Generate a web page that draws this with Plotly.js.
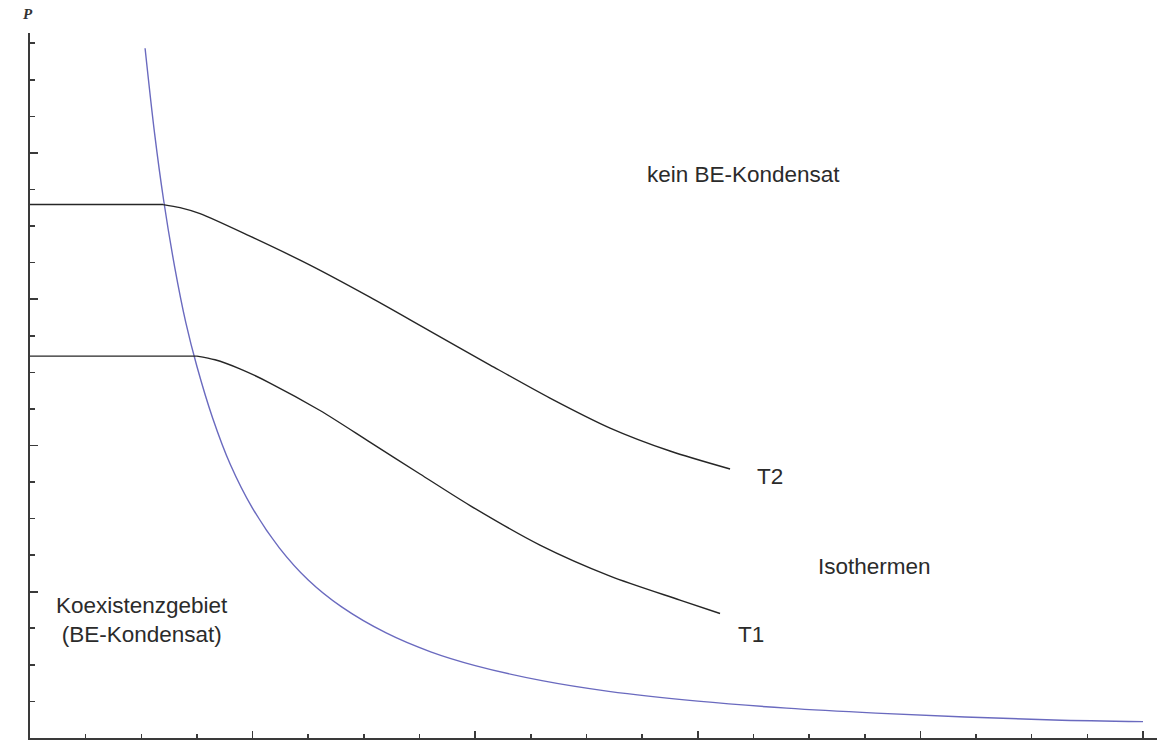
<!DOCTYPE html>
<html>
<head>
<meta charset="utf-8">
<script src="https://cdn.plot.ly/plotly-3.0.1.min.js"></script>
<style>html,body{margin:0;padding:0;background:#fff;}#chart{width:1157px;height:744px;}</style>
</head>
<body>
<div id="chart"></div>
<script>
// Phase boundary (BE transition line)
var boundaryV = [0.517, 0.56, 0.60, 0.65, 0.70, 0.75, 0.82, 0.90, 1.00, 1.12, 1.25, 1.40, 1.60, 1.80, 2.00, 2.30, 2.60, 3.00, 3.40, 3.80, 4.20, 4.60, 5.00];
var boundaryP = [4.716, 4.13, 3.68, 3.22, 2.84, 2.54, 2.19, 1.87, 1.57, 1.30, 1.08, 0.896, 0.718, 0.589, 0.495, 0.392, 0.319, 0.252, 0.204, 0.170, 0.144, 0.123, 0.112];

// Isotherm T2 (first two points: flat coexistence plateau)
var t2V = [0, 0.598, 0.674, 0.764, 0.988, 1.258, 1.527, 1.797, 2.067, 2.336, 2.606, 2.875, 3.145];
var t2P = [3.647, 3.647, 3.626, 3.585, 3.431, 3.233, 3.014, 2.782, 2.550, 2.324, 2.119, 1.962, 1.839];

// Isotherm T1 (first two points: flat coexistence plateau)
var t1V = [0, 0.750, 0.831, 0.943, 1.078, 1.303, 1.527, 1.752, 1.977, 2.291, 2.606, 2.920, 3.100];
var t1P = [2.611, 2.611, 2.586, 2.524, 2.427, 2.239, 2.023, 1.805, 1.589, 1.319, 1.107, 0.943, 0.851];

// Labels
var labelText = ["kein BE-Kondensat", "T2", "Isothermen", "T1", "Koexistenzgebiet<br>(BE-Kondensat)"];
var labelV = [3.207, 3.324, 3.796, 3.239, 0.505];
var labelP = [3.855, 1.79, 1.175, 0.705, 0.805];

var textFont = {family: "Liberation Sans, Arial, sans-serif", size: 22.5, color: "#2b2b2b"};
var blackLine = {color: "#262626", width: 1.4};

var traces = [
  {x: boundaryV, y: boundaryP, mode: "lines", line: {color: "#6a6abf", width: 1.4, shape: "spline", smoothing: 1}, hoverinfo: "skip"},
  {x: t2V.slice(0, 2), y: t2P.slice(0, 2), mode: "lines", line: blackLine, hoverinfo: "skip"},
  {x: t2V.slice(1), y: t2P.slice(1), mode: "lines", line: Object.assign({shape: "spline", smoothing: 0.8}, blackLine), hoverinfo: "skip"},
  {x: t1V.slice(0, 2), y: t1P.slice(0, 2), mode: "lines", line: blackLine, hoverinfo: "skip"},
  {x: t1V.slice(1), y: t1P.slice(1), mode: "lines", line: Object.assign({shape: "spline", smoothing: 0.8}, blackLine), hoverinfo: "skip"}
];

var annotations = labelText.map(function (t, i) {
  return {x: labelV[i], y: labelP[i], xref: "x", yref: "y", text: t, showarrow: false,
          font: textFont, xanchor: "center", yanchor: "middle", align: "center"};
});
annotations.push({x: 0, y: 1, xref: "paper", yref: "paper", xanchor: "center", yanchor: "middle",
  xshift: -2, yshift: 19, text: "<b><i>P</i></b>", showarrow: false,
  font: {family: "Liberation Serif, serif", size: 15, color: "#333"}});

var axisCommon = {
  showline: true, linecolor: "#3a3a3a", linewidth: 1.6,
  ticks: "inside", tickcolor: "#3a3a3a", tickwidth: 1.6,
  showticklabels: false, showgrid: false, zeroline: false, tick0: 0, dtick: 1,
  fixedrange: true
};

var layout = {
  width: 1157, height: 744,
  margin: {l: 30, r: 0, t: 33, b: 6, pad: 0},
  paper_bgcolor: "#ffffff", plot_bgcolor: "#ffffff",
  showlegend: false,
  xaxis: Object.assign({}, axisCommon, {range: [0, 5.063], ticklen: 7,
    minor: {ticks: "inside", ticklen: 4, dtick: 0.25, tick0: 0, tickwidth: 1.6, tickcolor: "#3a3a3a", showgrid: false}}),
  yaxis: Object.assign({}, axisCommon, {range: [0, 4.82], ticklen: 8,
    minor: {ticks: "inside", ticklen: 5, dtick: 0.25, tick0: 0, tickwidth: 1.6, tickcolor: "#3a3a3a", showgrid: false}}),
  annotations: annotations
};

Plotly.newPlot("chart", traces, layout, {displayModeBar: false, staticPlot: true});
</script>
</body>
</html>
